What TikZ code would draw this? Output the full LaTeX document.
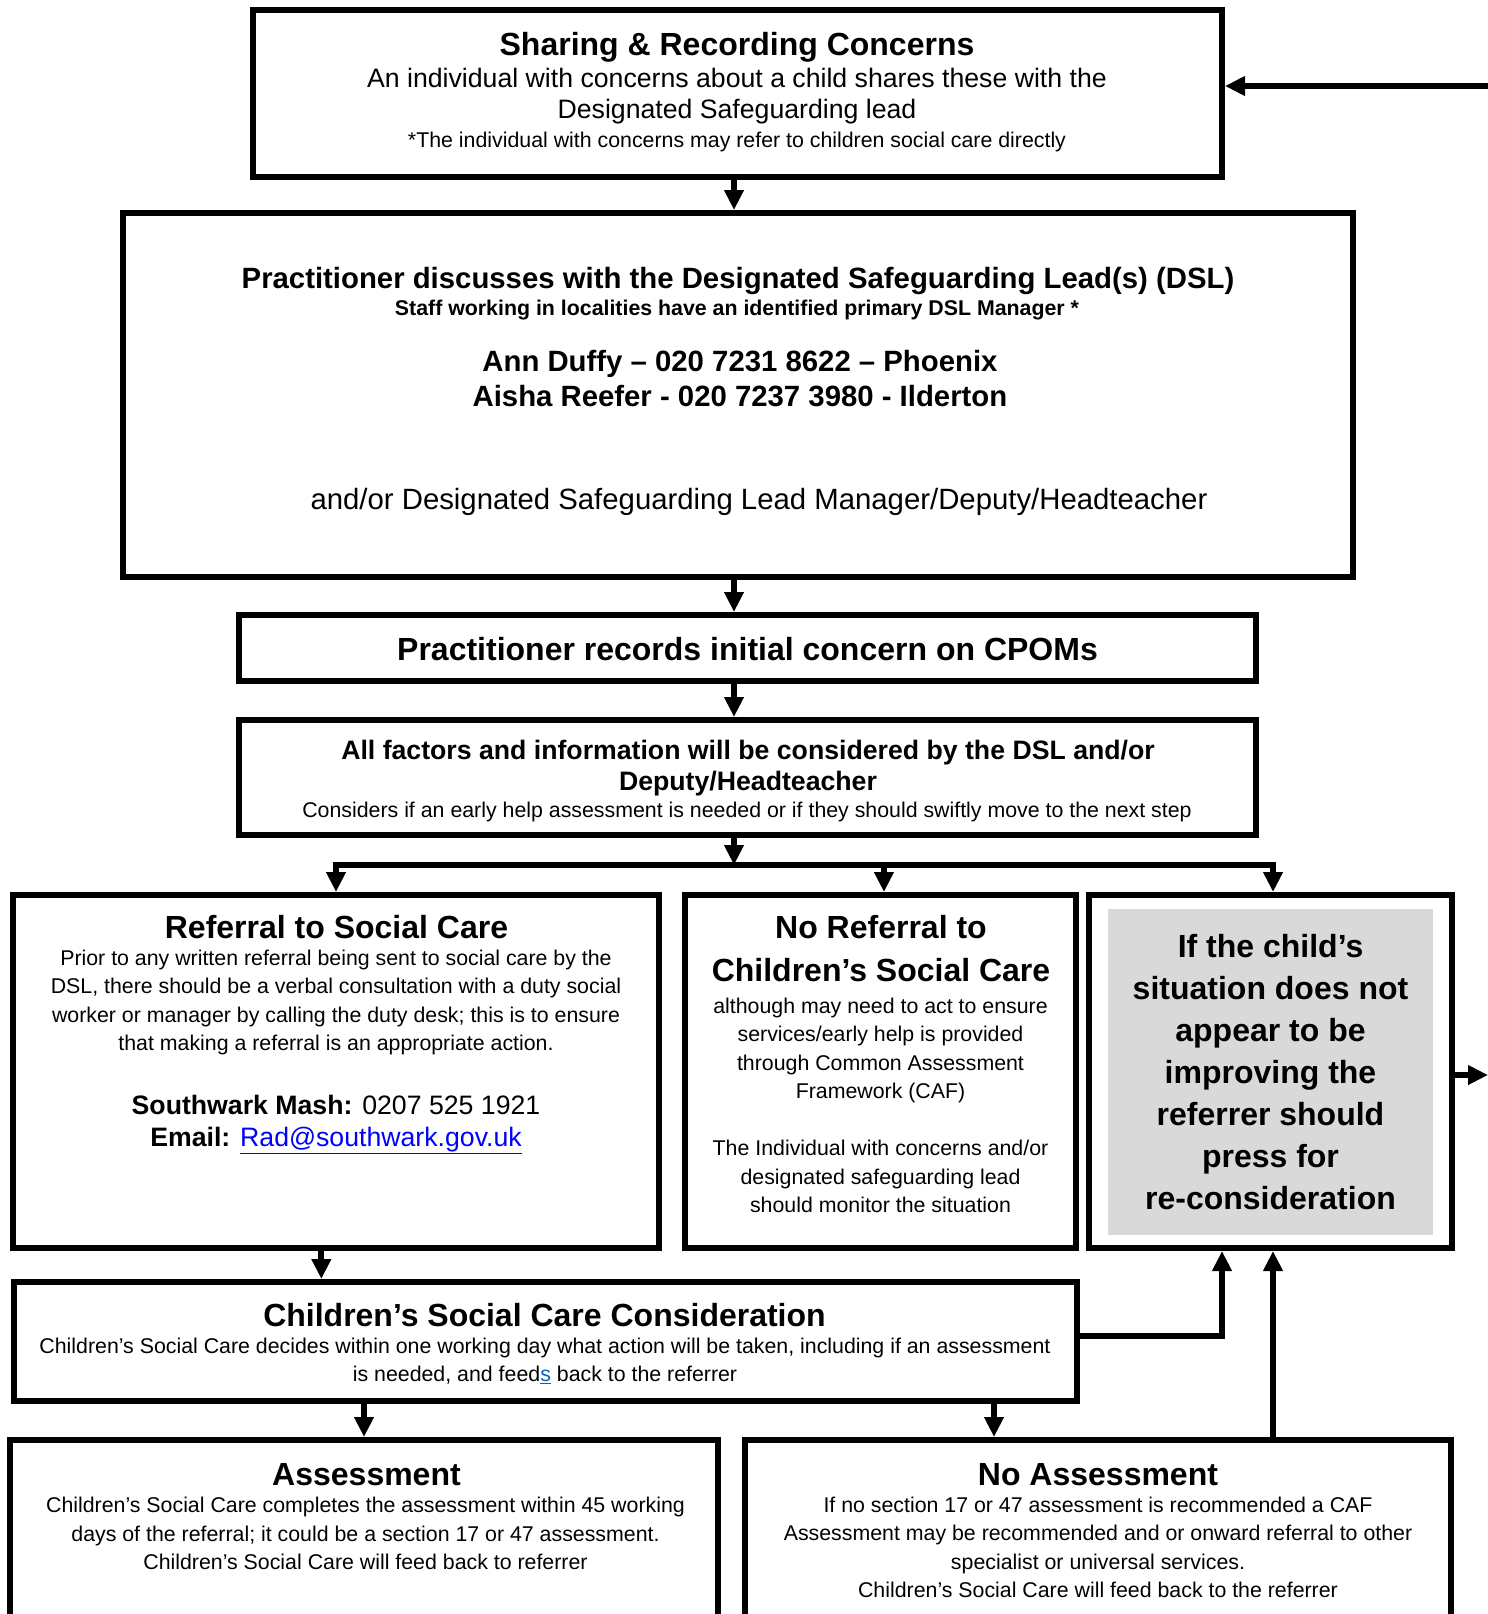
\documentclass[tikz,border=0pt]{standalone}
\usepackage{fontspec}
\setmainfont{Liberation Sans}
\usetikzlibrary{arrows.meta,positioning,calc}
\definecolor{shade}{HTML}{D9D9D9}
\definecolor{linkblue}{HTML}{0000FF}
\definecolor{feedblue}{HTML}{0563C1}
\newcommand{\fs}[2]{\fontsize{#1pt}{#2pt}\selectfont}

\begin{document}
\begin{tikzpicture}[
  x=0.75pt,y=-0.75pt,
  box/.style={draw,line width=4.5pt,inner sep=0pt},
  flow/.style={line width=4.5pt,-{Triangle[length=15pt,width=14pt]}},
  head/.style={font=\bfseries\fs{24}{31.5},align=center,inner sep=0pt},
  body/.style={font=\fs{16}{21.4},align=center,inner sep=0pt}
]
\clip (0,0) rectangle (1488,1614);

% ---------------- boxes ----------------
\node[box,minimum width=726.75pt,minimum height=125.25pt] (share) at (737.5,93.5) {};
\node[box,minimum width=922.5pt,minimum height=273pt] (dsl) at (738,395) {};
\node[box,minimum width=762.75pt,minimum height=49.5pt] (cpoms) at (747.5,648) {};
\node[box,minimum width=762.75pt,minimum height=86.25pt] (factors) at (747.5,777.5) {};
\node[box,minimum width=484.5pt,minimum height=264.75pt] (referral) at (336,1071.5) {};
\node[box,minimum width=293.25pt,minimum height=264.75pt] (noref) at (880.5,1071.5) {};
\node[box,minimum width=272.25pt,minimum height=264.75pt] (improve) at (1270.5,1071.5) {};
\node[box,minimum width=797.25pt,minimum height=89.25pt] (csc) at (545.5,1341.5) {};
\node[box,minimum width=531pt,minimum height=225pt] (assess) at (364,1590) {};
\node[box,minimum width=529.5pt,minimum height=225pt] (noassess) at (1098,1590) {};

% ---------------- texts ----------------
\node[head] (shareT) at (737,47) {Sharing \& Recording Concerns};
\node[body,font=\fs{20}{23.25}] (shareB) at (737,96) {An individual with concerns about a child shares these with the\\Designated Safeguarding lead};
\node[body] (shareN) at (737,142) {*The individual with concerns may refer to children social care directly};

\node[head,font=\bfseries\fs{22}{26}] (dslT) at (738,281) {Practitioner discusses with the Designated Safeguarding Lead(s) (DSL)};
\node[body,font=\bfseries\fs{16}{19}] (dslS) at (737,310) {Staff working in localities have an identified primary DSL Manager *};
\node[head,font=\bfseries\fs{22}{26.25}] (dslN) at (740,378.5) {Ann Duffy – 020 7231 8622 – Phoenix\\Aisha Reefer - 020 7237 3980 - Ilderton};
\node[body,font=\fs{22}{26}] (dslB) at (759,502) {and/or Designated Safeguarding Lead Manager/Deputy/Headteacher};

\node[head] (cpomsT) at (747.5,649) {Practitioner records initial concern on CPOMs};

\node[head,font=\bfseries\fs{20}{23.25}] (factorsT) at (748,768) {All factors and information will be considered by the DSL and/or\\Deputy/Headteacher};
\node[body] (factorsB) at (747,812) {Considers if an early help assessment is needed or if they should swiftly move to the next step};

\node[head] (referralT) at (336.5,927) {Referral to Social Care};
\node[body,font=\fs{16}{21.25}] (referralB) at (336,1002.5) {Prior to any written referral being sent to social care by the\\DSL, there should be a verbal consultation with a duty social\\worker or manager by calling the duty desk; this is to ensure\\that making a referral is an appropriate action.};
\node[body,font=\fs{20}{24}] (referralC) at (336,1124.5) {\textbf{Southwark Mash:} 0207 525 1921\\\textbf{Email:} \textcolor{linkblue}{\underline{Rad@southwark.gov.uk}}};

\node[head,font=\bfseries\fs{24}{32.25}] (norefT) at (881,948.5) {No Referral to\\Children’s Social Care};
\node[body] (norefB) at (880.5,1050.5) {although may need to act to ensure\\services/early help is provided\\through Common Assessment\\Framework (CAF)};
\node[body] (norefC) at (880.5,1176.5) {The Individual with concerns and/or\\designated safeguarding lead\\should monitor the situation};

\node[head,fill=shade,minimum width=243.75pt,minimum height=244.5pt] (improveT) at (1270.5,1072) {If the child’s\\situation does not\\appear to be\\improving the\\referrer should\\press for\\ re-consideration};

\node[head] (cscT) at (544.5,1315) {Children’s Social Care Consideration};
\node[body,font=\fs{16}{21}] (cscB) at (545,1361) {Children’s Social Care decides within one working day what action will be taken, including if an assessment\\is needed, and feed\textcolor{feedblue}{\underline{s}} back to the referrer};

\node[head] (assessT) at (366.5,1475) {Assessment};
\node[body] (assessB) at (365.5,1533.5) {Children’s Social Care completes the assessment within 45 working\\days of the referral; it could be a section 17 or 47 assessment.\\Children’s Social Care will feed back to referrer};

\node[head] (noassessT) at (1098,1475) {No Assessment};
\node[body] (noassessB) at (1098,1547.5) {If no section 17 or 47 assessment is recommended a CAF\\Assessment may be recommended and or onward referral to other\\specialist or universal services.\\Children’s Social Care will feed back to the referrer};

% ---------------- connectors ----------------
\coordinate (spine) at (734,865);
\coordinate (backin) at (1488,86);
\coordinate (backout) at (1488,1075);
\coordinate (riseA) at (1222,1336);
\coordinate (riseB) at (1273,1440);

\draw[flow] (backin) -- (backin -| share.east);
\draw[flow] (share.south -| spine) -- (dsl.north -| spine);
\draw[flow] (dsl.south -| spine) -- (cpoms.north -| spine);
\draw[flow] (cpoms.south -| spine) -- (factors.north -| spine);
\draw[flow] (factors.south -| spine) -- (spine);
\draw[flow] (spine) -| (referral.north);
\draw[flow] (spine) -| ([xshift=2.6pt]noref.north);
\draw[flow] (spine) -| ([xshift=1.9pt]improve.north);
\draw[flow] (improve.east |- backout) -- (backout);

\draw[flow] ([xshift=-11pt]referral.south) -- ([xshift=-11pt]referral.south |- csc.north);
\draw[flow] (csc.east |- riseA) -- (riseA) -- (riseA |- improve.south);
\draw[flow] (csc.south -| assess.north) -- (assess.north);
\draw[flow] ([xshift=-78pt]csc.south -| noassess.north) -- ([xshift=-78pt]noassess.north);
\draw[flow] (riseB |- noassess.north) -- (riseB |- improve.south);

\end{tikzpicture}
\end{document}
